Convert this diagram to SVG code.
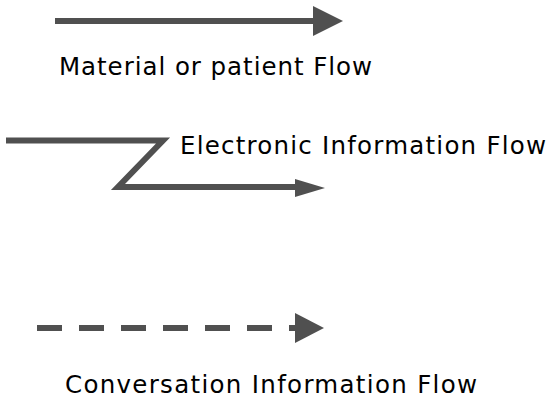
<svg xmlns="http://www.w3.org/2000/svg" width="558" height="405" viewBox="0 0 558 405">
<style>
.ln{stroke:#505050;stroke-width:6;fill:none}
.hd{fill:#505050}
.t{font-family:"DejaVu Sans",Verdana,sans-serif;font-size:24.5px;fill:#000}
</style>
<rect width="558" height="405" fill="#fff"/>
<g id="connectors">
<g id="material-arrow">
<line class="ln" x1="55" y1="21" x2="314" y2="21"/>
<polygon class="hd" points="313,6 343,21 313,36"/>
</g>
<g id="electronic-arrow">
<polyline class="ln" points="6,140.5 163,140.5 118,187 300,187" stroke-linejoin="miter"/>
<polygon class="hd" points="295,179 325,188 295,197"/>
</g>
<g id="conversation-arrow">
<line class="ln" x1="37" y1="328" x2="298" y2="328" stroke-dasharray="25 17"/>
<polygon class="hd" points="295,313 324,328 295,343"/>
</g>
</g>
<g id="label-material"><text class="t" x="59" y="75" textLength="313" lengthAdjust="spacing">Material or patient Flow</text></g>
<g id="label-electronic"><text class="t" x="180" y="154" textLength="366" lengthAdjust="spacing">Electronic Information Flow</text></g>
<g id="label-conversation"><text class="t" x="65" y="393" textLength="412" lengthAdjust="spacing">Conversation Information Flow</text></g>
</svg>
